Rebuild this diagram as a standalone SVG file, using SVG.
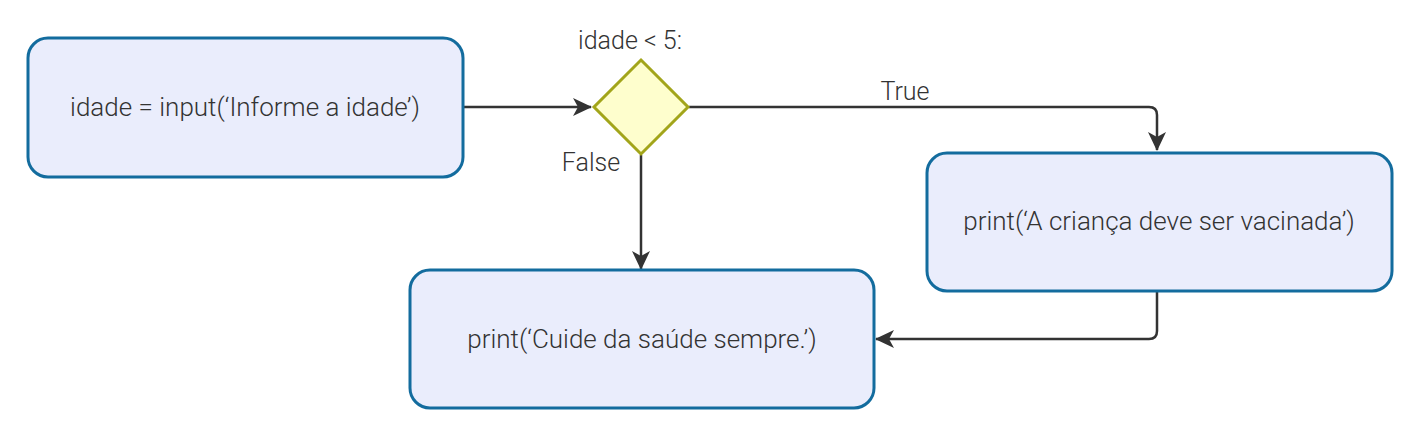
<svg xmlns="http://www.w3.org/2000/svg" width="1418" height="434" viewBox="0 0 1418 434">
<style>
.box{fill:#eaedfc;stroke:#136c9e;stroke-width:3}
.dia{fill:#fefecd;stroke:#a2a51a;stroke-width:3}
.t{font-family:Roboto,"Liberation Sans",sans-serif;font-weight:300;font-size:26px;fill:#333;text-anchor:middle}
.l{font-family:Roboto,"Liberation Sans",sans-serif;font-weight:300;font-size:25px;fill:#333;text-anchor:middle}
.c{fill:none;stroke:#333;stroke-width:2.5}
</style>
<defs>
<marker id="ah" markerWidth="20" markerHeight="20" refX="18" refY="10" orient="auto" markerUnits="userSpaceOnUse">
<path d="M0,1 L19,10 L0,19 L5,10 z" fill="#333"/>
</marker>
</defs>
<rect width="1418" height="434" fill="#fff"/>
<g id="connectors">
<path class="c" d="M463,107 L591,107" marker-end="url(#ah)"/>
<path class="c" d="M689,107 L1149,107 Q1157,107 1157,115 L1157,150" marker-end="url(#ah)"/>
<path class="c" d="M641,155 L641,269" marker-end="url(#ah)"/>
<path class="c" d="M1157,291 L1157,331 Q1157,339 1149,339 L876,339" marker-end="url(#ah)"/>
<text class="l" x="905" y="100">True</text>
<text class="l" x="591" y="171">False</text>
</g>
<g id="n1">
<rect class="box" x="28" y="38" width="435" height="139" rx="20"/>
<text class="t" x="245" y="116">idade = input(‘Informe a idade’)</text>
</g>
<g id="n2">
<polygon class="dia" points="641,60 688,107 641,154 594,107"/>
<text class="l" x="630" y="49">idade &lt; 5:</text>
</g>
<g id="n3">
<rect class="box" x="927" y="153" width="465" height="138" rx="20"/>
<text class="t" x="1159" y="230">print(‘A criança deve ser vacinada’)</text>
</g>
<g id="n4">
<rect class="box" x="410" y="270" width="464" height="138" rx="20"/>
<text class="t" x="642" y="348">print(‘Cuide da saúde sempre.’)</text>
</g>
</svg>
